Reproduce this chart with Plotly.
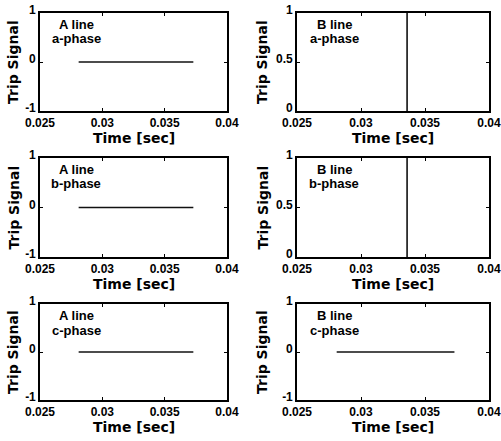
import plotly.graph_objects as go

# ---- data ----
x_range = [0.025, 0.04]
x_ticks = [0.025, 0.03, 0.035, 0.04]
x_ticklabels = ["0.025", "0.03", "0.035", "0.04"]

yA_ticks = [-1, 0, 1]
yA_ticklabels = ["-1", "0", "1"]
yB_ticks = [0, 0.5, 1]
yB_ticklabels = ["0", "0.5", "1"]

A_time = [0.0281, 0.0373]
A_a = [0, 0]
A_b = [0, 0]
A_c = [0, 0]

B_trip_time = [0.0336, 0.0336]
B_a = [0, 1]
B_b = [0, 1]
B_time_c = [0.0281, 0.0373]
B_c = [0, 0]

panel_lines = ["A line", "B line", "A line", "B line", "A line", "B line"]
panel_phases = ["a-phase", "a-phase", "b-phase", "b-phase", "c-phase", "c-phase"]
x_title = "Time [sec]"
y_title = "Trip Signal"

# ---- layout geometry (pixels) ----
W, H = 501, 441
col_px = [(40, 227), (297, 489)]
row_px = [(13, 111), (158, 257), (304, 400)]

series = [
    (A_time, A_a, [-1, 1], yA_ticks, yA_ticklabels),
    (B_trip_time, B_a, [0, 1], yB_ticks, yB_ticklabels),
    (A_time, A_b, [-1, 1], yA_ticks, yA_ticklabels),
    (B_trip_time, B_b, [0, 1], yB_ticks, yB_ticklabels),
    (A_time, A_c, [-1, 1], yA_ticks, yA_ticklabels),
    (B_time_c, B_c, [-1, 1], yA_ticks, yA_ticklabels),
]

tickfont = dict(family="Liberation Sans, Arial", size=12, color="black", weight="bold")
titlefont = dict(family="DejaVu Sans", size=14, color="black", weight="bold")
labelfont = dict(family="Liberation Sans, Arial", size=13, color="black", weight="bold")

fig = go.Figure()
layout = dict(
    width=W, height=H,
    margin=dict(l=0, r=0, t=0, b=0, autoexpand=False),
    paper_bgcolor="white", plot_bgcolor="white",
    showlegend=False,
)
annotations = []

for i, (xs, ys, yr, yt, ytl) in enumerate(series):
    r, c = divmod(i, 2)
    n = "" if i == 0 else str(i + 1)
    x0p, x1p = col_px[c]
    y0p, y1p = row_px[r]
    xd = [x0p / W, x1p / W]
    yd = [1 - y1p / H, 1 - y0p / H]
    fig.add_trace(go.Scatter(
        x=xs, y=ys, mode="lines",
        line=dict(color="#111111", width=1.6),
        xaxis="x" + n, yaxis="y" + n, hoverinfo="skip",
    ))
    layout["xaxis" + n] = dict(
        domain=xd, anchor="y" + n, range=x_range,
        tickvals=x_ticks, ticktext=x_ticklabels,
        ticks="inside", ticklen=3, tickcolor="black",
        showline=True, linecolor="black", linewidth=1.6, mirror="ticks",
        showgrid=False, zeroline=False, automargin=False,
        tickfont=tickfont, ticklabelstandoff=0, ticklabeloverflow="allow",
    )
    layout["yaxis" + n] = dict(
        domain=yd, anchor="x" + n, range=yr,
        tickvals=yt, ticktext=ytl,
        ticks="inside", ticklen=3, tickcolor="black",
        showline=True, linecolor="black", linewidth=1.6, mirror="ticks",
        showgrid=False, zeroline=False, automargin=False,
        tickfont=tickfont, ticklabelshift=-3, ticklabeloverflow="allow",
    )
    # panel labels
    cx = (x0p + 36) if c == 0 else (x0p + 37)
    annotations.append(dict(
        text=panel_lines[i], x=cx / W, y=1 - (y0p + 11.5) / H,
        xref="paper", yref="paper", showarrow=False,
        xanchor="center", yanchor="middle", font=labelfont,
    ))
    annotations.append(dict(
        text=panel_phases[i], x=cx / W, y=1 - (y0p + 26) / H,
        xref="paper", yref="paper", showarrow=False,
        xanchor="center", yanchor="middle", font=labelfont,
    ))
    # axis titles
    annotations.append(dict(
        text=x_title, x=(x0p + x1p) / 2 / W, y=1 - (y1p + 27) / H,
        xref="paper", yref="paper", showarrow=False,
        xanchor="center", yanchor="middle", font=titlefont,
    ))
    annotations.append(dict(
        text=y_title, x=(13 if c == 0 else 262) / W, y=1 - (y0p + y1p) / 2 / H,
        xref="paper", yref="paper", showarrow=False, textangle=-90,
        xanchor="center", yanchor="middle", font=titlefont,
    ))

layout["annotations"] = annotations
fig.update_layout(**layout)
fig.write_html("out.html", config={"displayModeBar": False},
               post_script="document.body.style.margin='0';")
